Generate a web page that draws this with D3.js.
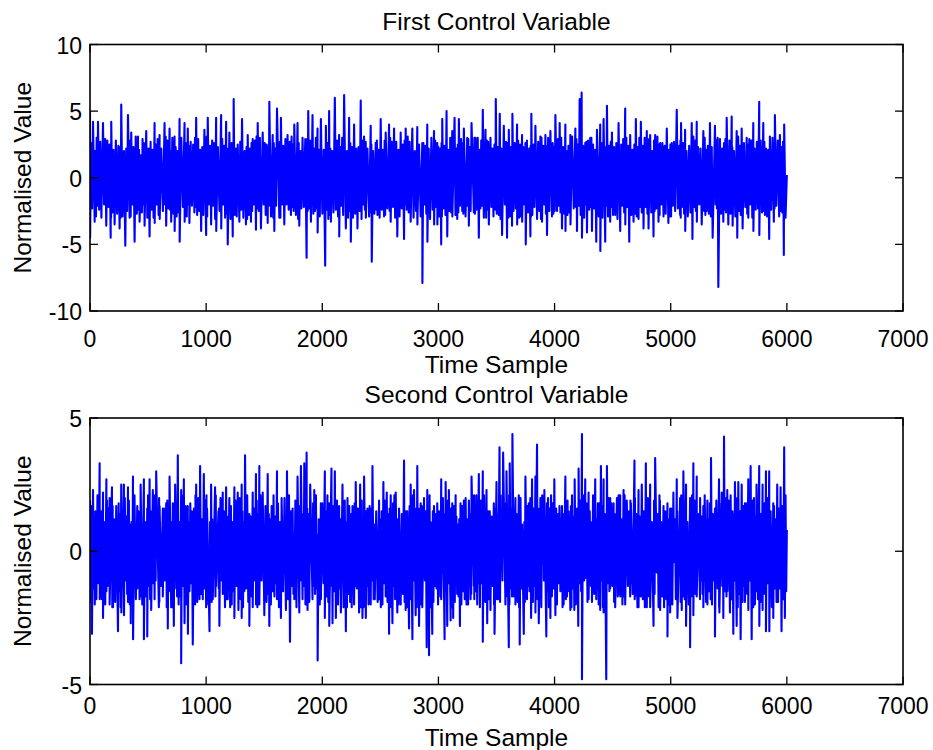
<!DOCTYPE html>
<html><head><meta charset="utf-8">
<script src="https://cdn.jsdelivr.net/npm/d3@7"></script>
<style>body{margin:0;background:#fff} text{font-family:"Liberation Sans",Arial,sans-serif;fill:#000}</style>
</head><body><svg id="c" width="933" height="750"></svg>
<script>
// ---- data ----
const xTicks = [0,1000,2000,3000,4000,5000,6000,7000];
const topYTicks = [-10,-5,0,5,10];
const botYTicks = [-5,0,5];

// visible spikes: [time sample, normalised value]
const firstUpper = [[0,5.0],[26,4.2],[69,4.2],[112,4.1],[183,4.2],[269,5.5],[327,4.7],[355,3.4],[413,3.1],[441,1.7],[484,3.5],[556,4.1],[599,3.2],[642,4.1],[685,3.7],[728,3.1],[771,4.4],[814,4.1],[842,3.7],[914,4.5],[985,3.6],[1014,4.5],[1086,4.5],[1129,4.7],[1172,4.2],[1200,3.4],[1237,5.9],[1272,2.5],[1309,4.4],[1358,3.2],[1401,2.9],[1444,4.1],[1487,3.4],[1544,5.7],[1573,3.2],[1610,5.2],[1644,4.5],[1701,3.2],[1759,4.0],[1787,4.1],[1830,3.0],[1879,5.0],[1916,4.7],[1959,3.7],[1988,4.4],[2031,3.9],[2059,5.0],[2108,6.0],[2145,3.2],[2188,6.2],[2231,4.5],[2274,4.0],[2331,5.8],[2374,2.7],[2417,3.9],[2460,2.6],[2503,4.4],[2546,3.4],[2575,4.0],[2618,3.7],[2675,3.4],[2718,3.7],[2775,3.7],[2818,3.8],[2861,2.6],[2904,4.0],[2962,3.5],
[2990,2.6],[3033,4.4],[3070,5.0],[3119,3.5],[3139,4.5],[3176,4.4],[3219,3.7],[3248,3.0],[3285,4.1],[3319,3.0],[3382,5.1],[3405,3.6],[3448,3.0],[3494,5.9],[3528,4.8],[3563,3.9],[3606,3.6],[3637,4.8],[3677,4.0],[3720,3.2],[3749,2.6],[3800,4.8],[3835,3.9],[3878,3.1],[3921,3.2],[3964,3.5],[4007,4.7],[4044,4.1],[4093,4.0],[4136,3.2],[4179,3.7],[4216,5.9],[4233,6.4],[4264,2.6],[4307,3.0],[4365,3.6],[4393,4.0],[4422,4.4],[4451,5.4],[4494,3.4],[4551,4.1],[4608,5.2],[4651,3.2],[4700,4.4],[4743,4.2],[4794,3.5],[4823,3.2],[4866,3.2],[4909,2.6],[4966,3.7],[5009,2.6],[5052,5.1],[5089,4.1],[5124,3.6],[5181,4.1],[5224,4.2],[5281,3.5],[5338,4.1],[5381,3.9],[5424,2.9],[5482,4.5],[5525,4.6],[5568,3.5],[5611,3.7],[5654,3.0],[5711,4.1],[5762,5.7],[5797,4.1],[5854,3.1],[5897,4.7],[5940,3.2],[5977,4.0],[6000,0.2]];

const firstLower = [[1,-4.5],[40,-3.3],[98,-3.0],[140,-3.6],[178,-4.5],[212,-3.5],[255,-3.8],[304,-5.1],[341,-3.0],[384,-4.8],[427,-3.3],[470,-3.6],[513,-4.4],[557,-3.4],[600,-3.1],[656,-3.6],[699,-3.3],[729,-4.0],[772,-4.8],[815,-3.3],[856,-3.4],[899,-2.6],[957,-4.0],[1000,-4.3],[1043,-3.5],[1087,-4.0],[1130,-3.8],[1186,-5.0],[1229,-4.4],[1286,-3.3],[1343,-3.5],[1386,-3.3],[1429,-3.9],[1472,-3.8],[1530,-3.4],[1587,-4.0],[1630,-3.0],[1673,-3.5],[1730,-2.8],[1802,-3.6],[1865,-6.0],[1902,-3.3],[1960,-4.1],[2025,-6.6],[2074,-3.3],[2146,-4.4],[2203,-3.8],[2246,-4.8],[2303,-3.8],[2375,-3.0],[2426,-6.3],[2475,-2.8],[2532,-2.9],[2589,-3.3],[2646,-4.4],[2704,-4.6],[2761,-3.3],[2819,-3.5],[2862,-7.9],[2905,-4.8],[2963,-3.5],
[2991,-3.5],[3024,-5.0],[3076,-4.4],[3120,-2.9],[3162,-3.1],[3205,-2.5],[3262,-3.6],[3305,-2.6],[3348,-4.5],[3391,-3.0],[3434,-3.5],[3491,-2.4],[3548,-4.3],[3591,-4.5],[3634,-3.6],[3678,-3.5],[3721,-3.3],[3752,-5.0],[3792,-4.4],[3849,-3.1],[3892,-3.3],[3935,-4.3],[3978,-2.9],[4021,-2.5],[4064,-3.8],[4094,-4.0],[4137,-3.5],[4193,-4.0],[4236,-4.5],[4279,-4.1],[4322,-4.0],[4359,-4.8],[4394,-5.5],[4436,-4.8],[4479,-3.3],[4522,-2.8],[4565,-4.0],[4609,-3.5],[4643,-4.8],[4680,-3.3],[4723,-3.1],[4766,-3.8],[4809,-3.8],[4852,-4.4],[4895,-3.3],[4938,-2.9],[4980,-3.4],[5038,-2.5],[5081,-2.8],[5125,-4.0],[5187,-4.6],[5225,-3.3],[5267,-3.5],[5310,-2.5],[5361,-4.5],[5410,-8.2],[5453,-3.3],[5496,-3.5],[5533,-3.6],[5573,-4.5],[5619,-3.8],[5668,-3.0],[5712,-4.0],[5763,-4.3],[5811,-2.8],[5848,-4.6],[5888,-3.3],[5934,-2.9],[5974,-5.8]];

// estimated swing size of the dense band between the spikes (magnitudes, in time order)
const firstBand = [
2.6,2.3,2.0,2.9,3.0,2.1,2.4,2.7,2.0,2.9,2.8,2.2,2.5,2.0,3.0,2.6,2.1,2.8,2.7,2.4,
2.3,3.0,2.9,2.0,2.2,2.5,2.8,2.9,2.0,2.3,3.1,2.7,2.4,2.1,2.6,2.9,2.0,2.6,3.0,2.2,
2.7,2.4,2.1,3.0,2.5,2.0,2.9,2.8,2.2,2.5,2.0,3.1,2.8,2.3,2.4,2.0,3.0,2.7,2.3,2.9,
2.0,2.6,3.0,2.2,2.6,2.9,2.0,2.4,2.7,2.1,2.5,3.0,2.2,2.8,2.9,2.5,2.1,2.3,2.8,3.1,
2.9,2.0,2.4,2.8,2.1,2.6,3.1,2.3,2.5,2.9,2.0,2.4,3.0,2.7,2.2,3.1,2.6,2.0,2.4,2.8,
2.2,2.9,2.7,2.4,3.0,2.0,2.3,3.1,2.8,2.2,2.6,2.5,2.0,2.8,3.1,2.3,2.5,3.0,2.0,2.6,
2.8,2.5,2.3,2.1,2.9,3.0,2.6,2.2,2.1,2.7,3.0,2.0,2.4,2.9,2.0,2.4,2.7,3.1,2.2,2.5,
2.5,2.8,3.1,2.6,2.0,2.3,2.2,2.9,2.9,2.5,2.3,2.8,2.7,2.2,2.5,3.0,2.3,2.1,2.9,2.7,
2.1,2.4,2.6,3.1,2.8,2.2,2.0,2.6,2.4,2.8,2.9,2.3,2.1,3.0,2.8,2.0,3.0,2.5,2.6,2.3,
3.0,2.7,2.2,2.3,2.5,3.1,2.8,2.0,3.1,2.4,2.2,2.9,2.6,2.5,2.0,2.7,2.4,2.8,2.1,3.0,
2.4,2.1,2.8,2.8,2.3,2.5,3.0,2.7,2.2,3.0,2.7,2.1,2.9,2.3,2.5,2.8,2.0,2.4,3.1,2.6,
2.7,3.0,2.0,2.5,3.1,2.2,2.5,2.9,2.6,2.0,2.4,2.7,2.2,3.1,3.0,2.4,2.8,2.2,2.3,2.9,
2.2,2.6,2.9,2.3,2.4,2.8,2.1,2.5,3.0,2.6,2.8,2.2,2.5,2.6,2.1,2.9,2.6,2.7,2.9,2.1,
2.9,2.3,2.5,3.0,2.7,2.4,3.0,2.1,2.3,2.8,2.1,3.0,2.8,2.4,2.7,2.2,2.2,2.9,2.5,2.7,
2.3,2.8,3.1,2.2,2.0,2.7,2.6,3.0,2.9,2.3,2.5,2.6,2.3,2.8,3.0,2.5,2.9,2.3,2.0,2.8,
2.6,2.2,2.4,2.9,2.8,2.5,2.2,2.7,2.5,3.1,3.0,2.4,2.0,2.7,2.4,3.0,2.5,2.6,2.7,2.3,
2.5,2.9,2.1,2.6,3.0,2.3,2.7,2.0,2.8,2.4,2.6,3.1,2.3,2.2,2.9,2.5,2.1,2.8,2.4,3.0,
2.0,2.7,2.8,2.4,2.2,3.0,2.5,2.3,2.1,2.9,2.7,2.0,2.6,3.0,2.3,2.1,2.9,2.4,2.7,2.2,
2.8,2.3,2.6,3.1,2.5,2.1,2.9,2.6,3.0,2.2,2.4,2.8,2.1,2.5,2.7,2.9,2.3,3.0,2.2,2.6,
2.4,3.0,2.2,2.7,2.9,2.6,2.0,2.8,2.5,2.3,3.1,2.5,2.8,2.0,2.6,2.4,2.7,2.1,2.9,2.5,
2.9,2.1,2.7,2.3,2.4,2.8,3.0,2.2,2.6,2.7,2.0,2.9,2.4,2.6,3.1,2.2,2.8,2.5,2.3,2.0,
2.2,2.5,3.0,2.8,2.1,2.4,2.7,2.9,2.3,2.0,2.8,2.3,3.0,2.7,2.2,2.6,2.4,2.9,2.6,2.8,
2.7,2.4,2.3,2.0,2.9,3.1,2.5,2.4,2.8,2.6,2.2,2.7,2.5,2.9,2.0,2.8,3.0,2.2,2.4,2.7,
2.3,2.8,2.6,2.5,2.7,2.2,2.9,2.1,2.4,3.0,2.6,2.3,2.1,2.8,2.5,2.3,2.6,2.7,3.0,2.4];

const secondUpper = [[0,1.9],[26,2.3],[46,1.5],[83,3.3],[112,2.2],[141,2.7],[169,2.0],[189,2.4],[226,1.7],[269,2.5],[292,2.5],[327,2.4],[350,1.0],[370,2.8],[407,1.7],[436,2.5],[464,2.7],[493,1.6],[513,2.7],[541,2.3],[570,3.0],[599,1.7],[627,1.6],[656,1.8],[685,2.8],[713,1.8],[733,2.5],[756,3.6],[785,2.3],[808,2.7],[842,1.7],[877,1.5],[914,2.5],[948,3.2],[980,2.9],[1008,1.6],[1043,2.5],[1077,2.4],[1106,1.5],[1143,2.2],[1172,2.4],[1200,2.0],[1243,2.4],[1272,2.2],[1306,2.5],[1335,3.6],[1372,1.4],[1401,2.2],[1429,2.9],[1458,3.2],[1487,2.2],[1530,2.9],[1564,1.7],[1610,3.0],[1650,2.0],[1696,3.0],[1730,1.5],[1759,0.6],[1787,2.8],[1816,3.2],[1845,3.3],[1865,3.7],[1896,2.5],[1931,2.3],[1959,0.6],[1988,1.8],[2022,3.0],[2059,1.8],[2079,3.1],[2108,3.0],[2145,1.7],[2174,2.5],[2217,2.0],[2260,1.7],[2288,2.6],[2326,2.5],[2360,2.8],[2389,1.6],[2432,3.2],[2452,1.0],[2489,1.9],[2526,2.6],[2555,2.2],[2589,2.1],[2632,2.2],[2661,1.6],[2704,3.4],[2732,1.5],[2761,2.5],[2790,2.3],[2818,3.2],[2847,1.8],[2876,2.0],[2904,2.3],[2933,1.1],[2962,1.7],[2990,1.8],
[3004,1.5],[3024,2.7],[3062,2.6],[3090,2.3],[3119,1.8],[3148,2.1],[3168,1.0],[3190,1.8],[3219,1.9],[3262,1.9],[3285,2.8],[3311,1.7],[3348,2.9],[3382,3.0],[3414,2.3],[3442,1.5],[3477,1.8],[3500,2.6],[3526,3.9],[3557,3.7],[3586,3.0],[3614,3.3],[3637,4.4],[3663,2.0],[3692,2.1],[3720,1.0],[3749,2.8],[3778,1.8],[3806,2.7],[3835,2.8],[3849,4.0],[3878,2.0],[3912,2.3],[3944,2.0],[3970,2.1],[3998,2.7],[4027,1.4],[4064,1.7],[4093,2.8],[4121,1.5],[4150,2.1],[4173,2.7],[4207,3.1],[4236,4.4],[4264,2.7],[4293,2.2],[4322,1.1],[4350,2.7],[4373,1.8],[4399,3.2],[4422,2.7],[4451,3.2],[4479,2.0],[4508,1.8],[4537,2.0],[4565,2.1],[4594,2.3],[4622,1.9],[4657,1.8],[4688,3.4],[4723,2.3],[4751,2.5],[4786,3.3],[4823,2.5],[4866,3.5],[4903,2.1],[4938,1.7],[4972,1.8],[4995,1.6],[5023,2.2],[5052,2.7],[5081,2.0],[5109,3.0],[5132,2.5],[5167,2.0],[5195,3.3],[5224,2.8],[5253,2.0],[5281,1.7],[5316,1.9],[5347,3.5],[5381,1.6],[5416,2.7],[5439,2.2],[5459,4.3],[5487,2.3],[5516,2.1],[5553,2.6],[5582,2.6],[5611,2.5],[5639,1.8],[5668,2.7],[5688,3.2],[5717,2.0],[5739,2.5],[5762,3.2],[5791,2.5],[5820,3.0],[5848,3.0],[5883,1.8],[5917,2.5],[5946,2.4],[5977,3.9],[6000,0.8]];

const secondLower = [[1,-1.9],[17,-3.1],[55,-1.8],[84,-1.8],[112,-2.5],[141,-1.5],[169,-2.0],[198,-2.1],[241,-3.0],[270,-2.3],[293,-2.4],[327,-1.9],[351,-2.7],[371,-3.3],[407,-1.4],[427,-1.8],[464,-3.3],[493,-3.2],[527,-2.2],[556,-1.8],[593,-2.1],[627,-1.7],[670,-2.9],[699,-2.1],[722,-2.8],[750,-1.7],[785,-4.2],[814,-2.7],[843,-3.1],[885,-3.5],[905,-2.0],[943,-1.8],[971,-1.8],[1000,-2.1],[1029,-3.0],[1057,-1.8],[1086,-1.3],[1114,-2.8],[1143,-1.6],[1186,-1.8],[1220,-2.0],[1243,-2.5],[1278,-2.2],[1306,-2.5],[1329,-1.5],[1372,-2.8],[1401,-2.1],[1430,-2.0],[1458,-2.0],[1501,-2.4],[1544,-2.8],[1573,-1.5],[1610,-1.8],[1644,-2.5],[1687,-2.2],[1722,-3.4],[1759,-1.8],[1802,-2.3],[1830,-1.8],[1873,-2.2],[1916,-1.8],[1960,-4.1],[1988,-1.8],[2022,-2.5],[2060,-2.8],[2088,-2.7],[2117,-2.5],[2160,-2.3],[2203,-3.0],[2240,-1.9],[2274,-2.0],[2317,-2.3],[2346,-2.5],[2375,-2.5],[2417,-2.0],[2452,-1.8],[2490,-1.8],[2518,-2.0],[2546,-1.7],[2575,-3.1],[2604,-2.7],[2646,-2.3],[2675,-2.0],[2718,-2.2],[2747,-2.9],[2776,-3.3],[2804,-2.4],[2833,-2.8],[2861,-2.1],[2899,-3.6],[2919,-3.9],[2947,-3.1],[2984,-1.4],
[3004,-1.4],[3024,-1.8],[3053,-3.3],[3076,-2.8],[3105,-2.6],[3127,-2.5],[3148,-1.0],[3185,-2.8],[3213,-1.5],[3242,-2.0],[3277,-1.8],[3305,-1.3],[3334,-2.0],[3357,-2.1],[3382,-3.4],[3420,-2.7],[3448,-2.2],[3483,-3.1],[3514,-1.8],[3540,-0.7],[3577,-2.0],[3606,-3.6],[3634,-1.7],[3663,-2.0],[3700,-3.5],[3735,-3.1],[3763,-1.8],[3798,-2.5],[3835,-2.3],[3864,-2.7],[3901,-0.5],[3929,-3.2],[3964,-2.5],[4007,-2.4],[4050,-1.5],[4078,-2.0],[4107,-1.7],[4136,-2.2],[4170,-2.2],[4204,-2.8],[4236,-4.8],[4265,-1.0],[4293,-1.8],[4322,-1.9],[4359,-1.8],[4393,-2.2],[4422,-2.3],[4445,-4.8],[4479,-1.4],[4522,-2.1],[4565,-1.7],[4608,-2.0],[4651,-1.7],[4694,-1.7],[4723,-2.1],[4760,-1.8],[4794,-2.1],[4823,-2.1],[4852,-2.8],[4880,-0.8],[4909,-2.2],[4943,-2.1],[4972,-3.2],[4995,-2.3],[5029,-0.4],[5058,-2.5],[5095,-2.2],[5132,-2.8],[5167,-3.6],[5195,-2.4],[5224,-1.7],[5252,-1.8],[5281,-2.1],[5316,-2.0],[5344,-1.8],[5381,-3.2],[5419,-2.3],[5453,-2.5],[5488,-1.5],[5510,-2.3],[5539,-3.1],[5568,-2.8],[5602,-3.3],[5639,-1.9],[5668,-2.2],[5697,-3.3],[5725,-2.0],[5763,-2.8],[5791,-2.2],[5820,-3.0],[5849,-3.0],[5883,-2.5],[5911,-1.9],[5954,-3.0],[5983,-2.5]];

const secondBand = [
1.7,1.4,1.1,2.0,2.1,1.2,1.5,1.8,1.1,2.0,1.9,1.3,1.6,1.1,2.1,1.7,1.2,1.9,1.8,1.5,
1.4,2.1,2.0,1.1,1.3,1.6,1.9,2.0,1.1,1.4,2.1,1.8,1.5,1.2,1.7,2.0,1.1,1.7,2.1,1.3,
1.8,1.5,1.2,2.1,1.6,1.1,2.0,1.9,1.3,1.6,1.1,2.1,1.9,1.4,1.5,1.1,2.1,1.8,1.4,2.0,
1.1,1.7,2.1,1.3,1.7,2.0,1.1,1.5,1.8,1.2,1.6,2.1,1.3,1.9,2.0,1.6,1.2,1.4,1.9,2.1,
2.0,1.1,1.5,1.9,1.2,1.7,2.1,1.4,1.6,2.0,1.1,1.5,2.1,1.8,1.3,2.1,1.7,1.1,1.5,1.9,
1.3,2.0,1.8,1.5,2.1,1.1,1.4,2.1,1.9,1.3,1.7,1.6,1.1,1.9,2.1,1.4,1.6,2.1,1.1,1.7,
1.9,1.6,1.4,1.2,2.0,2.1,1.7,1.3,1.2,1.8,2.1,1.1,1.5,2.0,1.1,1.5,1.8,2.1,1.3,1.6,
1.6,1.9,2.1,1.7,1.1,1.4,1.3,2.0,2.0,1.6,1.4,1.9,1.8,1.3,1.6,2.1,1.4,1.2,2.0,1.8,
1.2,1.5,1.7,2.1,1.9,1.3,1.1,1.7,1.5,1.9,2.0,1.4,1.2,2.1,1.9,1.1,2.1,1.6,1.7,1.4,
2.1,1.8,1.3,1.4,1.6,2.1,1.9,1.1,2.1,1.5,1.3,2.0,1.7,1.6,1.1,1.8,1.5,1.9,1.2,2.1,
1.5,1.2,1.9,1.9,1.4,1.6,2.1,1.8,1.3,2.1,1.8,1.2,2.0,1.4,1.6,1.9,1.1,1.5,2.1,1.7,
1.8,2.1,1.1,1.6,2.1,1.3,1.6,2.0,1.7,1.1,1.5,1.8,1.3,2.1,2.1,1.5,1.9,1.3,1.4,2.0,
1.3,1.7,2.0,1.4,1.5,1.9,1.2,1.6,2.1,1.7,1.9,1.3,1.6,1.7,1.2,2.0,1.7,1.8,2.0,1.2,
2.0,1.4,1.6,2.1,1.8,1.5,2.1,1.2,1.4,1.9,1.2,2.1,1.9,1.5,1.8,1.3,1.3,2.0,1.6,1.8,
1.4,1.9,2.1,1.3,1.1,1.8,1.7,2.1,2.0,1.4,1.6,1.7,1.4,1.9,2.1,1.6,2.0,1.4,1.1,1.9,
1.7,1.3,1.5,2.0,1.9,1.6,1.3,1.8,1.6,2.1,2.1,1.5,1.1,1.8,1.5,2.1,1.6,1.7,1.8,1.4,
1.6,2.0,1.2,1.7,2.1,1.4,1.8,1.1,1.9,1.5,1.7,2.1,1.4,1.3,2.0,1.6,1.2,1.9,1.5,2.1,
1.1,1.8,1.9,1.5,1.3,2.1,1.6,1.4,1.2,2.0,1.8,1.1,1.7,2.1,1.4,1.2,2.0,1.5,1.8,1.3,
1.9,1.4,1.7,2.1,1.6,1.2,2.0,1.7,2.1,1.3,1.5,1.9,1.2,1.6,1.8,2.0,1.4,2.1,1.3,1.7,
1.5,2.1,1.3,1.8,2.0,1.7,1.1,1.9,1.6,1.4,2.1,1.6,1.9,1.1,1.7,1.5,1.8,1.2,2.0,1.6,
2.0,1.2,1.8,1.4,1.5,1.9,2.1,1.3,1.7,1.8,1.1,2.0,1.5,1.7,2.1,1.3,1.9,1.6,1.4,1.1,
1.3,1.6,2.1,1.9,1.2,1.5,1.8,2.0,1.4,1.1,1.9,1.4,2.1,1.8,1.3,1.7,1.5,2.0,1.7,1.9,
1.8,1.5,1.4,1.1,2.0,2.1,1.6,1.5,1.9,1.7,1.3,1.8,1.6,2.0,1.1,1.9,2.1,1.3,1.5,1.8,
1.4,1.9,1.7,1.6,1.8,1.3,2.0,1.2,1.5,2.1,1.7,1.4,1.2,1.9,1.6,1.4,1.7,1.8,2.1,1.5];

// builds one time series: spikes in time order, band swings placed between them
// (number of swings in each gap follows the gap's length)
function buildSeries(upper, lower, band) {
  const peaks = upper.concat(lower).sort((a,b)=>a[0]-b[0]);
  const gaps = peaks.length - 1;
  const span = peaks[gaps][0] - peaks[0][0];
  const rate = band.length / span;
  const out = [];
  let used = 0, acc = 0;
  for (let k = 0; k < peaks.length; k++) {
    out.push(peaks[k]);
    if (k === gaps) break;
    const a = peaks[k], b = peaks[k+1];
    const same = Math.sign(a[1]) === Math.sign(b[1]);
    acc += rate * (b[0] - a[0]);
    let n = Math.round(acc - used);
    if (same ? n % 2 === 0 : n % 2 === 1) n -= 1;
    if (same && n < 1) n = 1;
    if (n < 0) n = 0;
    n = Math.min(n, band.length - used);
    let s = a[1] >= 0 ? -1 : 1;
    for (let j = 0; j < n; j++) {
      out.push([a[0] + (j+1)*(b[0]-a[0])/(n+1), s*band[used+j]]);
      s = -s;
    }
    used += n;
  }
  return out;
}

// ---- layout ----
const svg = d3.select("#c");
const L = 90, R = 903, TL = 8;
const panels = [
  {upper:firstUpper, lower:firstLower, band:firstBand, top:44.5, bottom:311, dom:[-10,10], yt:topYTicks,
   title:"First Control Variable", titleY:30, tickLabY:347, xLabY:373},
  {upper:secondUpper, lower:secondLower, band:secondBand, top:418, bottom:684.5, dom:[-5,5], yt:botYTicks,
   title:"Second Control Variable", titleY:403, tickLabY:714, xLabY:746}
];

panels.forEach((p, pi) => {
  const x = d3.scaleLinear().domain([0,7000]).range([L,R]);
  const y = d3.scaleLinear().domain(p.dom).range([p.bottom,p.top]);
  const series = buildSeries(p.upper, p.lower, p.band);
  const g = svg.append("g");
  const clipId = "clip"+pi;
  svg.append("clipPath").attr("id",clipId).append("rect")
    .attr("x",L).attr("y",p.top).attr("width",R-L).attr("height",p.bottom-p.top);
  g.append("path").datum(series)
    .attr("clip-path",`url(#${clipId})`)
    .attr("fill","none").attr("stroke","#0000ff").attr("stroke-width",2.1)
    .attr("stroke-linejoin","round")
    .attr("d", d3.line().x(d=>x(d[0])).y(d=>y(d[1])));

  const ax = g.append("g").attr("stroke","#000").attr("stroke-width",1.3);
  xTicks.forEach(t => {
    ax.append("line").attr("x1",x(t)).attr("x2",x(t)).attr("y1",p.bottom).attr("y2",p.bottom-TL);
    ax.append("line").attr("x1",x(t)).attr("x2",x(t)).attr("y1",p.top).attr("y2",p.top+TL);
  });
  p.yt.forEach(t => {
    ax.append("line").attr("x1",L).attr("x2",L+TL).attr("y1",y(t)).attr("y2",y(t));
    ax.append("line").attr("x1",R).attr("x2",R-TL).attr("y1",y(t)).attr("y2",y(t));
  });
  g.append("rect").attr("x",L).attr("y",p.top).attr("width",R-L).attr("height",p.bottom-p.top)
    .attr("fill","none").attr("stroke","#000").attr("stroke-width",1.6);

  g.selectAll(".xl").data(xTicks).enter().append("text")
    .attr("x",d=>x(d)).attr("y",p.tickLabY).attr("text-anchor","middle")
    .attr("font-size",23).text(d=>d);
  g.selectAll(".yl").data(p.yt).enter().append("text")
    .attr("x",L-8).attr("y",d=>y(d)+9).attr("text-anchor","end")
    .attr("font-size",23).text(d=>d);
  g.append("text").attr("x",(L+R)/2).attr("y",p.titleY).attr("text-anchor","middle")
    .attr("font-size",24.5).text(p.title);
  g.append("text").attr("x",(L+R)/2).attr("y",p.xLabY).attr("text-anchor","middle")
    .attr("font-size",24.5).text("Time Sample");
  g.append("text").attr("transform",`translate(31,${(p.top+p.bottom)/2}) rotate(-90)`)
    .attr("text-anchor","middle").attr("font-size",24.5).text("Normalised Value");
});
</script></body></html>
